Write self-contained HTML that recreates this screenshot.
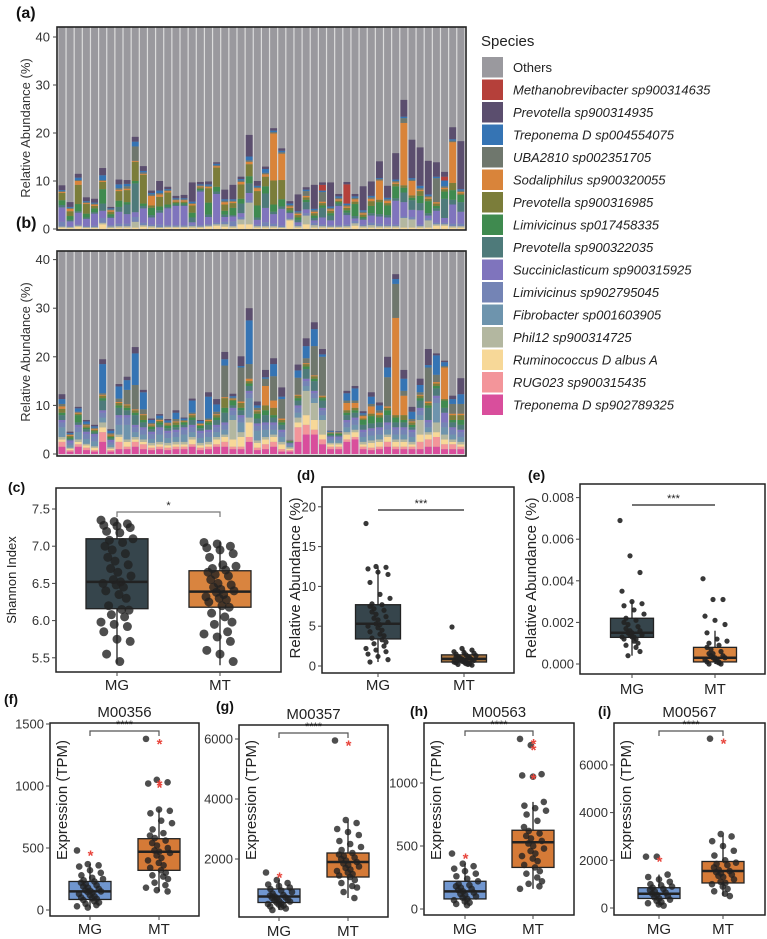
<!DOCTYPE html>
<html><head><meta charset="utf-8">
<style>
html,body{margin:0;padding:0;background:#fff;}
svg{display:block;font-family:"Liberation Sans",Arial,sans-serif;}
</style></head>
<body>
<svg id="fig" width="767" height="939" viewBox="0 0 767 939" xmlns="http://www.w3.org/2000/svg"></svg>
<script>
const speciesNames = ["Others","Methanobrevibacter sp900314635","Prevotella sp900314935","Treponema D sp004554075","UBA2810 sp002351705","Sodaliphilus sp900320055","Prevotella sp900316985","Limivicinus sp017458335","Prevotella sp900322035","Succiniclasticum sp900315925","Limivicinus sp902795045","Fibrobacter sp001603905","Phil12 sp900314725","Ruminococcus D albus A","RUG023 sp900315435","Treponema D sp902789325"];
const speciesColors = ["#9a999e","#b5403a","#5b4e6e","#3574b4","#6f776d","#d9843a","#7b7d3a","#3f8a4f","#4e7a7a","#7f74bd","#7484b5","#6e94ad","#b3b7a0","#f7d898","#f3959a","#d94e9c"];

const aRum  = [0.3,0.2,0.5,0.2,0.2,1,0.2,0.3,0.3,0.3,0.5,0.3,0.2,0.3,0.3,0.3,0.3,0.3,0.5,0.7,0.5,0.3,1,1,0.3,0.3,0.3,0.2,1.8,0.3,1,0.3,0.3,0.3,0.3,0.3,0.7,0.3,0.3,0.3,0.3,0.3,0.3,0.3,0.3,0.3,0.7,0.7,0.3,0.3];
const aPhil = [0.2,0.2,0.2,0.2,0.2,0.3,0.3,0.3,0.3,1.2,0.3,0.3,0.2,0.2,0.2,0.2,0.3,0.2,0.2,0.3,0.5,0.3,1,4.5,0.3,0.3,0.3,0.2,0.2,0.3,1.8,0.5,0.3,0.2,0.2,0.3,0.5,0.3,0.5,0.3,0.3,0.3,2,1.7,0.3,1.5,0.3,0.3,0.3,0.3];
const aLim9 = [1,0.2,0.2,0.2,0.3,1,0.3,0.5,0.5,1,0.5,0.3,0.5,0.3,0.3,0.3,0.3,0.3,0.3,0.3,0.5,1,0.5,0.5,0.3,0.8,0.5,0.3,0.3,0.3,0.5,0.5,0.3,0.3,0.3,0.3,0.5,0.3,0.5,0.5,0.3,0.3,0.3,0.5,0.3,0.5,0.3,0.3,0.5,0.5];
const aSucc = [3,1,2.5,1.5,2.5,1.5,1.5,2.5,2,1,3,1.5,2.5,3.5,4,4,0.5,7,1.5,6,1,1,0.8,1.5,1,3,2,3.5,1,0.5,0.8,0.5,1.5,1,4,2,0.5,1,1.5,1.5,1.5,5,3,1.5,3,0.5,2.5,1,4,2.5];
const aP322 = [0.5,0.3,0.3,0.3,0.3,1.5,0.3,1,2,6,0.5,0.5,0.5,0.3,0.3,0.3,1,0.3,0.5,0.5,0.5,0.3,2,2,0.5,3,0.5,0.5,0.3,0.5,1.5,0.5,2,1,0.5,0.5,0.5,0.3,0.5,0.5,0.5,0.5,2,2,1.5,0.5,0.5,4,1,2];
const aL017 = [1,0.8,1.5,0.8,0.8,3,0.5,1.3,0.5,0.5,0.5,1.5,0.8,0.5,0.3,0.3,1,0.3,2.5,1,0.8,1.5,1,1.5,2.5,1.5,1.5,1.5,0.3,0.5,0.5,0.5,0.5,0.5,0.3,0.5,2.5,0.3,1.5,2.5,2,2.5,1,0.5,1.5,2.5,0.5,1.5,2,1.5];
const aP316 = [1.5,1,4,2,0.5,1.5,0.5,2,2.5,4,6,0.5,2,2.5,0.3,0.3,1.5,0.3,3,4,1.3,1,3,2.5,3,2,5,4,0.5,0.5,0.5,0.5,0.5,0.5,0.3,0.5,0.5,0.5,1,0.5,0.5,0.5,0.5,0.5,1,0.5,0.5,0.5,1.5,0.3];
const aSod  = [0.2,0.5,0.8,0.2,0.3,0.2,0.3,0.3,0.3,0.2,0.2,2,0.5,0.3,0.3,0.3,0.3,0.2,0.3,0.3,0.5,0.3,0.5,0.5,0.6,0.5,9.8,5.5,0.3,0.3,0.3,0.3,0.3,0.3,0.3,0.3,0.5,0.3,0.5,4,0.5,0.3,13,3,0.3,0.3,0.3,0.3,8.5,0.3];
const aUba  = [0.2,0.2,0.2,0.2,0.2,0.2,0.2,0.3,0.5,3,0.3,0.3,0.3,0.2,0.2,0.2,0.2,0.2,0.2,0.2,0.3,0.2,0.3,0.3,0.2,0.3,0.3,0.3,0.3,0.3,1,0.3,2,0.3,0.3,0.3,0.3,0.3,0.3,0.3,0.3,0.3,1,0.3,0.3,0.3,5,0.3,0.3,0.3];
const aTre4 = [0.2,0.2,0.5,0.2,0.2,1,0.2,0.8,0.5,1,0.3,0.3,0.5,0.2,0.2,0.2,0.3,0.2,0.3,0.3,0.3,0.3,0.3,0.8,0.3,0.8,0.3,0.3,0.3,0.2,0.3,0.3,0.3,0.3,0.3,0.3,0.3,0.3,0.3,0.2,0.3,0.3,0.3,0.3,0.5,0.3,0.3,1.2,0.3,0.3];
const aP314 = [1,1,0.8,0.8,0.8,1.5,0.3,1,0.8,1,1,0.5,2,0.5,0.5,0.7,4,0.5,0.6,0.3,2,3,0.5,4.5,1,0.5,0.5,0.5,0.5,3.5,0.5,5,0.5,5,0.5,0.5,0.5,5,3,3.5,2.5,5.5,3.5,8,8,7,3,1,2.5,10];
const aMeth = [0,0,0,0,0,0,0,0,0,0,0,0,0,0,0,0,0,0,0,0,0,0,0,0,0,0,0,0,0,0,0,0,1.2,0,0,4,0,0,0,0,0,0,0,0,0,0,0,0.8,0,0];

const bTre9 = [1.5,0.5,1.5,0.8,0.5,2.5,0.5,1,1,1.5,1,0.8,1,0.8,1,1,1.5,0.8,1,1.5,1.5,1,1,2.5,0.8,1,1.5,0.5,0.5,2.5,4,4,2,1,1,2.5,3,1,0.8,1,1.5,1,1,1,1,1.5,1.5,1,1,1];
const bRug  = [1,0.3,0.5,0.5,0.3,2,0.3,1.5,0.5,1,1,0.5,0.5,0.5,0.5,0.5,0.5,0.5,0.5,0.5,1,0.5,0.5,1,0.5,1,1,0.5,0.3,3,2,1,1,0.5,0.5,0.5,0.5,0.5,0.5,0.5,1,0.5,0.5,0.5,1.5,1.5,2,1,1,0.5];
const bRum  = [0.5,0.3,0.5,0.5,0.5,1,0.3,1,1,0.5,0.5,0.5,0.5,0.5,0.5,0.5,1,0.5,0.5,1,1,1.5,2,3,1,1,1,1,0.3,1,2,2,1,0.5,0.5,1,1,0.5,1,1,1,1,1,0.5,1.5,1,1,1,0.5,0.5];
const bPhil = [0.5,0.2,0.5,0.3,0.3,1,0.3,0.5,0.5,0.5,0.5,0.5,0.5,0.5,0.5,0.5,0.5,0.5,0.5,0.5,0.5,4,1,1,0.5,0.5,0.5,0.5,0.3,1,5,3.5,3,0.3,0.3,0.5,0.5,0.5,0.5,0.5,0.5,0.5,0.5,0.5,3,0.5,2,1,0.5,0.5];
const bFib  = [2,0.5,1.5,1,1,1,0.5,2,3,1,1,0.8,1.5,1,1,1.5,1,1,1,1,1,1,2,4,2,1.5,1,1,0.3,1,1,1,1,0.5,0.5,1,1,1,1,1,1,1,1,1,1,1,4,1.5,1,1];
const bLim9 = [1,0.5,1,1,1,1,0.5,1.5,1.5,1,1,1,1,1,1,1,1,1,1,1,1,1,1,1,1,1,1,1,0.3,1,1,1,1,0.5,0.5,1,1,1,1,1,1,1,1,1,1,1,1,1,1,1];
const bSucc = [0.5,0.5,0.5,0.5,0.5,0.5,0.5,0.5,0.5,0.5,0.5,0.5,0.5,0.5,0.5,0.5,0.5,0.5,0.5,0.5,0.5,0.5,0.5,0.5,0.5,0.5,0.5,0.5,0.2,0.5,0.5,0.5,0.5,0.3,0.3,0.5,0.5,0.5,0.5,0.5,0.5,0.5,0.5,0.5,0.5,0.5,0.5,2,0.5,0.5];
const bP322 = [1,0.3,0.5,0.5,0.3,2,0.3,1.5,1,2,1,0.5,0.5,0.5,0.5,0.5,1,0.5,1,1,2,0.5,1,1,1,1.5,1,1,0.2,1,2,2,1.5,0.3,0.3,1,1,1,1,1,1.5,1,1,0.5,1.5,2.5,1.5,1,1,1];
const bL017 = [0.5,0.3,1.5,0.3,0.3,0.5,0.3,0.5,0.5,0.5,0.5,0.5,0.5,0.5,0.5,0.5,0.5,0.5,0.5,0.5,1,1,0.5,0.5,1,1,0.5,0.5,0.2,0.5,0.5,0.5,0.5,0.3,0.3,0.5,0.5,1,1.5,1,1,1,0.5,0.5,0.5,0.5,0.5,1.5,0.5,1];
const bP316 = [0.8,0.3,0.3,0.3,0.3,0.5,0.3,0.5,0.5,0.5,1,0.3,0.3,0.3,0.5,0.2,0.5,0.2,0.3,0.5,2,0.2,1,0.5,0.5,1,1.5,0.5,0.1,0.5,0.5,0.5,0.3,0.1,0.1,0.5,0.5,0.3,0.5,0.5,0.5,0.5,1,0.5,0.5,0.5,0.5,0.3,1,1];
const bSod  = [0.5,0.2,0.2,0.2,0.2,0.2,0.2,0.2,0.2,0.2,0.2,0.2,0.2,0.2,0.2,0.1,0.2,0.2,0.2,0.2,0.2,0.2,0.3,0.5,0.2,4,1.5,0.3,0.05,0.2,0.2,0.2,0.2,0.1,0.1,1.5,1,0.5,1.5,0.5,0.3,20,4,0.2,0.2,0.3,0.3,6.5,0.3,0.3];
const bUba  = [0.5,0.2,0.2,0.3,0.2,0.3,0.3,0.7,3,5,1,0.3,0.3,0.2,0.5,0.2,0.3,0.2,0.3,0.5,6.5,0.2,7,3,0.5,1.5,5,4,0.05,3.5,1,6,8,0.1,0.1,0.5,0.5,0.3,0.5,0.5,6,7,1,0.5,0.5,7,1.5,0.3,2,2];
const bTre4 = [1,0.2,0.7,0.5,0.3,6,0.5,2.5,2,6.5,3.5,0.6,0.6,0.4,1.3,0.3,2.5,0.4,4.5,1.5,1.3,0.3,0.3,9,0.5,0.3,2.5,0.5,0.05,1.5,2.5,3.5,0.5,0.2,0.1,1.5,2.5,0.3,1.5,1,2,1,2.5,1.5,1.5,0.5,4,0.8,1,2];
const bP314 = [1,0.3,0.3,0.3,0.3,1,0.3,0.5,0.7,1.3,0.5,0.3,0.3,0.3,0.5,0.2,0.4,0.2,0.9,1.1,1.5,0.5,2,2.5,0.8,1.5,1.2,1.9,0.05,1.2,1.6,1.4,1.1,0.1,0.1,0.5,0.5,0.4,0.9,0.6,2.2,1,1.8,1,1.3,3.3,0.4,0.3,0.7,3.3];

const cMG = [7.35,7.33,7.3,7.28,7.27,7.25,7.2,7.18,7.1,7.08,7.05,7.0,6.95,6.9,6.85,6.8,6.75,6.7,6.65,6.6,6.55,6.52,6.5,6.48,6.45,6.4,6.35,6.3,6.2,6.15,6.14,6.08,6.05,5.98,5.95,5.92,5.85,5.75,5.72,5.55,5.45];
const cMT = [7.05,7.03,7.0,6.98,6.95,6.9,6.85,6.75,6.73,6.7,6.68,6.65,6.62,6.6,6.55,6.5,6.48,6.45,6.42,6.4,6.38,6.35,6.32,6.3,6.28,6.25,6.2,6.18,6.1,6.05,5.98,5.95,5.85,5.82,5.78,5.72,5.6,5.55,5.45];
const cStats = {q1:[6.16,6.18], med:[6.52,6.39], q3:[7.10,6.67], lo:[5.42,5.4], hi:[7.36,7.06]};
const dMG = [17.9,12.5,12.4,12.2,11.8,11.5,10.5,9,8.5,7.8,7.7,7.5,7.2,7,6.8,6.5,6.2,6,5.8,5.5,5.3,5.2,5,4.8,4.5,4.3,4,3.8,3.5,3.3,3,2.8,2.5,2.2,2,1.8,1.5,1.2,0.8,0.5];
const dMT = [4.9,2.2,2,1.8,1.7,1.6,1.5,1.4,1.3,1.2,1.2,1.1,1,1,0.9,0.9,0.8,0.8,0.7,0.7,0.6,0.6,0.5,0.5,0.4,0.4,0.3,0.3,0.2,0.2,0.1];
const dStats = {q1:[3.4,0.5], med:[5.3,0.9], q3:[7.7,1.4], lo:[0.5,0.1], hi:[12.5,2.2]};
const eMG = [0.0069,0.0052,0.0044,0.0035,0.003,0.0029,0.0028,0.0026,0.0024,0.0022,0.0021,0.002,0.0019,0.0018,0.0017,0.0016,0.0016,0.0015,0.0015,0.0014,0.0014,0.0013,0.0013,0.0013,0.0012,0.0012,0.0011,0.001,0.0009,0.0008,0.0006,0.0004];
const eMT = [0.0041,0.0031,0.0031,0.0023,0.0021,0.0019,0.0015,0.0012,0.0011,0.001,0.0009,0.0008,0.0007,0.0006,0.0005,0.0005,0.0004,0.0004,0.0003,0.0003,0.0003,0.0002,0.0002,0.0002,0.0001,0.0001,0.0001,0,0,0.00005];
const eStats = {q1:[0.00128,0.0001], med:[0.0015,0.0003], q3:[0.0022,0.0008], lo:[0.0004,0], hi:[0.003,0.0016]};
const fMG = [480,370,360,350,320,300,280,260,250,240,230,220,210,200,190,180,170,160,155,150,145,140,130,120,110,100,95,90,80,70,60,50,40,30,20];
const fMT = [1380,1050,1030,1020,810,800,780,720,700,650,620,600,580,560,540,520,500,480,470,460,440,420,400,380,360,340,320,300,280,270,250,220,200,180,160,150];
const fStats = {q1:[85,320], med:[150,470], q3:[230,575], lo:[20,150], hi:[370,810]};
const fOut = {mg:[480], mt:[1380,1050,1030]};
const gMG = [1550,1300,1200,1150,1100,1050,1000,950,900,850,800,780,750,720,700,680,650,620,600,580,550,520,500,480,450,420,400,350,300];
const gMT = [5950,3300,3200,3000,2900,2800,2600,2500,2400,2300,2200,2150,2100,2050,2000,1950,1900,1850,1800,1750,1700,1650,1600,1550,1500,1450,1400,1300,1200,1100,1050,900,700];
const gStats = {q1:[550,1400], med:[750,1900], q3:[1000,2200], lo:[300,700], hi:[1300,3250]};
const gOut = {mg:[1550], mt:[5950]};
const hMG = [440,360,340,320,300,280,260,240,220,200,190,180,170,160,150,140,130,120,110,100,90,80,70,60,50,40,30];
const hMT = [1350,1300,1070,1060,1050,850,820,800,780,750,700,650,620,600,580,560,540,520,500,480,460,440,420,400,380,350,330,300,280,250,220,200,180,160];
const hStats = {q1:[80,330], med:[140,530], q3:[220,625], lo:[30,160], hi:[360,850]};
const hOut = {mg:[440], mt:[1350,1300,1070]};
const iMG = [2150,2150,1400,1300,1200,1100,1000,950,900,850,800,750,700,650,600,550,500,450,400,350,300,250,200,150,100];
const iMT = [7100,3100,3000,2800,2600,2400,2200,2000,1900,1850,1800,1700,1600,1550,1500,1450,1400,1350,1300,1200,1100,1050,1000,900,800,700,600,500];
const iStats = {q1:[400,1050], med:[600,1550], q3:[850,1950], lo:[100,500], hi:[1400,3050]};
const iOut = {mg:[2150], mt:[7100]};

const groupLabels = ["MG","MT"];
const cTicks = [5.5,6.0,6.5,7.0,7.5];
const dTicks = [0,5,10,15,20];
const eTicks = [0,0.002,0.004,0.006,0.008];
const fTicks = [0,500,1000,1500];
const gTicks = [2000,4000,6000];
const hTicks = [0,500,1000];
const iTicks = [0,2000,4000,6000];
const barTicks = [0,10,20,30,40];

const NS = "http://www.w3.org/2000/svg";
const fig = document.getElementById("fig");
function mk(tag, attrs, parent) {
  const el = document.createElementNS(NS, tag);
  for (const k in attrs) el.setAttribute(k, attrs[k]);
  (parent || fig).appendChild(el);
  return el;
}
function txt(s, attrs, parent) {
  const el = mk("text", attrs, parent);
  el.textContent = s;
  return el;
}

function drawStack(panelName, layers, y0, pxPerUnit, top, bottom, labelText, labelY, titleY) {
  const g = mk("g", {});
  
  
  const x0 = 58, x1 = 465, n = layers[0].vals.length, band = (x1 - x0) / n;
  const yS = v => y0 - v * pxPerUnit;
  const bg = mk("rect", {x:x0, y:top, width:x1-x0, height:bottom-top, fill:"#dcdcdc"}, g);
  
  
  for (let i = 0; i < n; i++) {
    const bx = x0 + i * band + 0.5, bw = band - 1.2;
    const other = mk("rect", {x:bx, y:top, width:bw, height:y0-top, fill:speciesColors[0]}, g);
    
    
    let acc = 0;
    for (const L of layers) {
      const v = L.vals[i];
      if (!v) continue;
      const r = mk("rect", {x:bx, y:yS(acc+v), width:bw, height:v*pxPerUnit, fill:speciesColors[L.idx]}, g);
      
      
      acc += v;
    }
  }
  const fr = mk("rect", {x:57, y:top, width:409, height:bottom-top, fill:"none", stroke:"#222", "stroke-width":1.6}, g);
  
  
  for (const t of barTicks) {
    const yy = yS(t);
    const tl = mk("line", {x1:53, x2:57, y1:yy, y2:yy, stroke:"#444"}, g);
    
    
    const tt = txt(String(t), {x:50, y:yy+4.5, "text-anchor":"end", "font-size":13, fill:"#333"}, g);
    
    
  }
  const yt = txt("Relative Abundance (%)", {x:0, y:0, transform:"translate(30," + titleY + ") rotate(-90)", "text-anchor":"middle", "font-size":13, fill:"#333"}, g);
  
  
  const pl = txt(labelText, {x:16, y:labelY, "font-size":16, "font-weight":"bold", fill:"#111"}, g);
  
  
}

drawStack("panel-a-stacked-bars", [
  {idx:13, vals:aRum},{idx:12, vals:aPhil},{idx:10, vals:aLim9},{idx:9, vals:aSucc},{idx:8, vals:aP322},
  {idx:7, vals:aL017},{idx:6, vals:aP316},{idx:5, vals:aSod},{idx:4, vals:aUba},{idx:3, vals:aTre4},
  {idx:1, vals:aMeth},{idx:2, vals:aP314}
], 229, 4.8, 27, 230, "(a)", 18, 128);

drawStack("panel-b-stacked-bars", [
  {idx:15, vals:bTre9},{idx:14, vals:bRug},{idx:13, vals:bRum},{idx:12, vals:bPhil},{idx:11, vals:bFib},
  {idx:10, vals:bLim9},{idx:9, vals:bSucc},{idx:8, vals:bP322},{idx:7, vals:bL017},{idx:6, vals:bP316},
  {idx:5, vals:bSod},{idx:4, vals:bUba},{idx:3, vals:bTre4},{idx:2, vals:bP314}
], 454, 4.86, 251, 456, "(b)", 228, 352);

const lg = mk("g", {});


const lgT = txt("Species", {x:481, y:46, "font-size":15, fill:"#222"}, lg);


for (let k = 0; k < speciesNames.length; k++) {
  const yy = 57 + k * 22.5;
  const sw = mk("rect", {x:482, y:yy, width:21, height:20.5, fill:speciesColors[k]}, lg);
  
  
  const lt = txt(speciesNames[k], {x:513, y:yy+15, "font-size":13, "font-style": k===0 ? "normal" : "italic", fill:"#222"}, lg);
  
  
}

function jit(i) { return (((i * 37) % 11) - 5) / 5; }
function drawBox(p) {
  const g = mk("g", {});
  
  
  const yS = p.yS;
  const fr = mk("rect", {x:p.fx0, y:p.fy0, width:p.fx1-p.fx0, height:p.fy1-p.fy0, fill:"#fff", stroke:"#222", "stroke-width":1.5}, g);
  
  
  for (const t of p.ticks) {
    const yy = yS(t);
    const tl = mk("line", {x1:p.fx0-4, x2:p.fx0, y1:yy, y2:yy, stroke:"#444"}, g);
    
    
    const tt = txt(p.fmt(t), {x:p.fx0-6, y:yy+4.5, "text-anchor":"end", "font-size":p.tfs||13, fill:"#333"}, g);
    
    
  }
  const groups = [p.mg, p.mt];
  for (let k = 0; k < 2; k++) {
    const cx = p.gx[k], s = p.stats, hw = p.bw/2;
    const wl = mk("line", {x1:cx, x2:cx, y1:yS(s.lo[k]), y2:yS(s.hi[k]), stroke:"#222", "stroke-width":1.3}, g);
    
    
    const bx = mk("rect", {x:cx-hw, y:yS(s.q3[k]), width:p.bw, height:yS(s.q1[k])-yS(s.q3[k]), fill:p.cols[k], stroke:"#222", "stroke-width":1.3}, g);
    
    
    const md = mk("line", {x1:cx-hw, x2:cx+hw, y1:yS(s.med[k]), y2:yS(s.med[k]), stroke:"#222", "stroke-width":2.5}, g);
    
    
    const vals = groups[k];
    for (let i = 0; i < vals.length; i++) {
      const pt = mk("circle", {cx:cx + jit(i)*p.jw + ((i%3)-1)*2, cy:yS(vals[i]), r:p.r, fill:"#222", "fill-opacity":p.op}, g);
      
      
    }
    if (p.out) {
      const ov = k === 0 ? p.out.mg : p.out.mt;
      for (const v of ov) {
        const st = txt("*", {x:cx + 0.5, y:yS(v)+10, "text-anchor":"middle", "font-size":15, "font-weight":"bold", fill:"#e8453c"}, g);
        
        
      }
    }
    const xl = txt(groupLabels[k], {x:cx, y:p.xly, "text-anchor":"middle", "font-size":15, fill:"#222"}, g);
    
    
    const xt = mk("line", {x1:cx, x2:cx, y1:p.fy1, y2:p.fy1+4, stroke:"#444"}, g);
    
    
  }
  const by = p.brY;
  const br = mk("path", {d:"M"+p.gx[0]+","+(by+(p.brTick?5:0))+"V"+by+"H"+p.gx[1]+"V"+(by+(p.brTick?5:0)), fill:"none", stroke:p.brCol||"#222", "stroke-width":1.2}, g);
  
  
  const sg = txt(p.sig, {x:(p.gx[0]+p.gx[1])/2, y:by-3, "text-anchor":"middle", "font-size":11, fill:"#222"}, g);
  
  
  const yt = txt(p.ytitle, {x:0, y:0, transform:"translate(" + p.ytx + "," + p.yty + ") rotate(-90)", "text-anchor":"middle", "font-size":p.ytfs, fill:"#222"}, g);
  
  
  const pl = txt(p.label, {x:p.lx, y:p.ly, "font-size":14, "font-weight":"bold", fill:"#111"}, g);
  
  
  if (p.title) {
    const ti = txt(p.title, {x:(p.fx0+p.fx1)/2, y:p.fy0-6, "text-anchor":"middle", "font-size":15, fill:"#222"}, g);
    
    
  }
}
const fmtInt = t => String(t);
const fmt1 = t => t.toFixed(1);
const fmt3 = t => t.toFixed(3);

drawBox({name:"panel-c-shannon", mg:cMG, mt:cMT, stats:cStats, ticks:cTicks, fmt:fmt1,
  yS:v => 509 + (7.5 - v) * 74.4, fx0:56, fx1:281, fy0:488, fy1:672, gx:[117,220], bw:62,
  cols:["#36454c","#d9843f"], r:4.5, op:0.8, jw:14, xly:690, brY:512, brTick:true, brCol:"#777", sig:"*",
  ytitle:"Shannon Index", ytx:16, yty:580, ytfs:13, label:"(c)", lx:8, ly:492});
drawBox({name:"panel-d-abundance", mg:dMG, mt:dMT, stats:dStats, ticks:dTicks, fmt:fmtInt,
  yS:v => 666 - v * 7.96, fx0:322, fx1:514, fy0:487, fy1:673, gx:[378,464], bw:45,
  cols:["#36454c","#a8743f"], r:2.6, op:0.9, jw:10, xly:690, brY:510, sig:"***",
  ytitle:"Relative Abundance (%)", ytx:300, yty:578, ytfs:15, label:"(d)", lx:297, ly:480});
drawBox({name:"panel-e-abundance", mg:eMG, mt:eMT, stats:eStats, ticks:eTicks, fmt:fmt3,
  yS:v => 664 - v * 20800, fx0:580, fx1:765, fy0:484, fy1:674, gx:[632,715], bw:43,
  cols:["#36454c","#d9843f"], r:2.6, op:0.9, jw:10, xly:694, brY:505, sig:"***",
  ytitle:"Relative Abundance (%)", ytx:536, yty:578, ytfs:15, label:"(e)", lx:528, ly:480});
drawBox({name:"panel-f-m00356", mg:fMG, mt:fMT, stats:fStats, ticks:fTicks, fmt:fmtInt, out:fOut,
  yS:v => 910 - v * 0.124, fx0:50, fx1:199, fy0:723, fy1:916, gx:[90,159], bw:42,
  cols:["#7096cf","#d57a37"], r:3.3, op:0.8, jw:11, xly:934, brY:731, brTick:true, brCol:"#555", sig:"****",
  ytitle:"Expression (TPM)", ytx:67, yty:800, ytfs:15, label:"(f)", lx:4, ly:704, title:"M00356"});
drawBox({name:"panel-g-m00357", mg:gMG, mt:gMT, stats:gStats, ticks:gTicks, fmt:fmtInt, out:gOut,
  yS:v => 919 - v * 0.03, fx0:239, fx1:388, fy0:725, fy1:917, gx:[279,348], bw:42,
  cols:["#7096cf","#d57a37"], r:3.3, op:0.8, jw:11, xly:936, brY:733, brTick:true, brCol:"#555", sig:"****",
  ytitle:"Expression (TPM)", ytx:256, yty:800, ytfs:15, label:"(g)", lx:216, ly:711, title:"M00357"});
drawBox({name:"panel-h-m00563", mg:hMG, mt:hMT, stats:hStats, ticks:hTicks, fmt:fmtInt, out:hOut,
  yS:v => 909 - v * 0.126, fx0:424, fx1:574, fy0:723, fy1:915, gx:[465,533], bw:42,
  cols:["#7096cf","#d57a37"], r:3.3, op:0.8, jw:11, xly:934, brY:731, brTick:true, brCol:"#555", sig:"****",
  ytitle:"Expression (TPM)", ytx:441, yty:800, ytfs:15, label:"(h)", lx:410, ly:716, title:"M00563"});
drawBox({name:"panel-i-m00567", mg:iMG, mt:iMT, stats:iStats, ticks:iTicks, fmt:fmtInt, out:iOut,
  yS:v => 908 - v * 0.02385, fx0:614, fx1:765, fy0:723, fy1:915, gx:[659,723], bw:42,
  cols:["#7096cf","#d57a37"], r:3.3, op:0.8, jw:11, xly:934, brY:731, brTick:true, brCol:"#555", sig:"****",
  ytitle:"Expression (TPM)", ytx:631, yty:800, ytfs:15, label:"(i)", lx:598, ly:716, title:"M00567"});
</script>
</body></html>
